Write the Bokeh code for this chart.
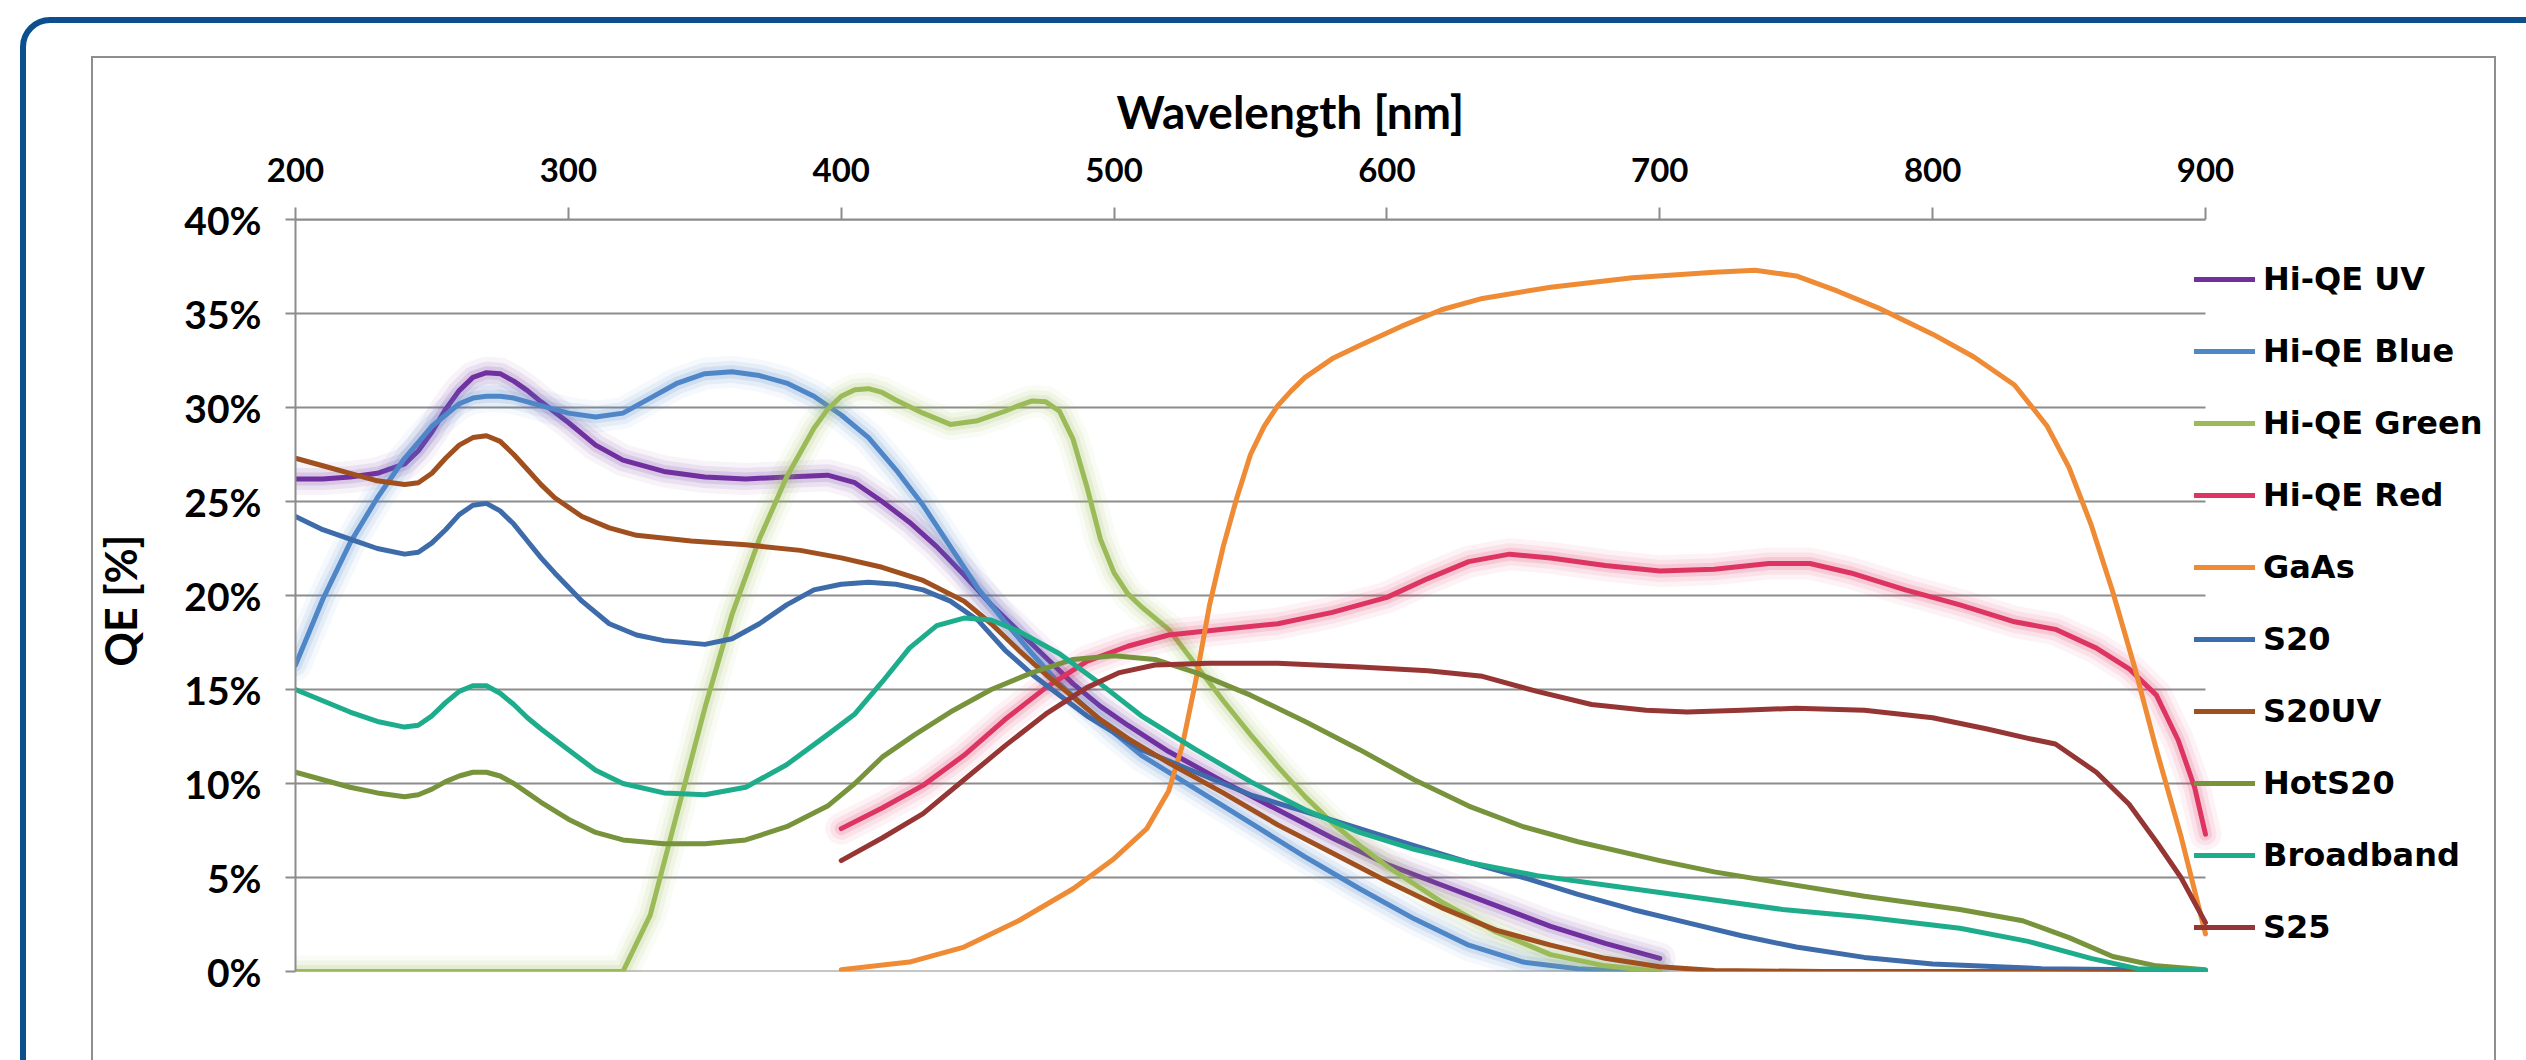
from bokeh.plotting import figure
from bokeh.models import (Range1d, FixedTicker, PrintfTickFormatter, Legend, LegendItem,
                          ColumnDataSource, GlobalInlineStyleSheet)
from bokeh.embed import file_html
from bokeh.resources import INLINE

# ---------------- data ----------------
x_ticks = [200, 300, 400, 500, 600, 700, 800, 900]
y_ticks = [0, 5, 10, 15, 20, 25, 30, 35, 40]

series_names = ["Hi-QE UV", "Hi-QE Blue", "Hi-QE Green", "Hi-QE Red", "GaAs",
                "S20", "S20UV", "HotS20", "Broadband", "S25"]

hiqe_uv_wl = [200, 210, 220, 230, 240, 245, 250, 255, 260, 265, 270, 275, 280, 285, 290, 300, 310,
              320, 335, 350, 365, 380, 395, 405, 415, 425, 435, 445, 455, 465, 475, 485, 495, 505,
              520, 540, 560, 580, 600, 620, 640, 660, 680, 700]
hiqe_uv_qe = [26.2, 26.2, 26.3, 26.5, 27.0, 27.7, 28.7, 29.9, 30.9, 31.6, 31.85, 31.8, 31.4, 30.9,
              30.3, 29.2, 28.0, 27.2, 26.6, 26.3, 26.2, 26.3, 26.4, 26.0, 25.0, 23.9, 22.6, 21.1,
              19.5, 18.1, 16.7, 15.3, 14.1, 13.1, 11.7, 10.1, 8.6, 7.1, 5.7, 4.6, 3.5, 2.4, 1.5, 0.7]

hiqe_blue_wl = [200, 210, 220, 230, 240, 250, 260, 265, 270, 275, 280, 290, 300, 310, 320, 330, 340,
                350, 360, 370, 380, 390, 400, 410, 420, 430, 440, 450, 460, 470, 480, 490, 500, 510,
                530, 550, 570, 590, 610, 630, 650, 670, 690, 700]
hiqe_blue_qe = [16.3, 19.8, 22.8, 25.2, 27.3, 29.0, 30.2, 30.5, 30.6, 30.6, 30.5, 30.1, 29.7, 29.5,
                29.7, 30.5, 31.3, 31.8, 31.9, 31.7, 31.3, 30.6, 29.6, 28.4, 26.7, 24.8, 22.6, 20.4,
                18.6, 16.9, 15.3, 14.0, 12.7, 11.5, 9.7, 7.9, 6.1, 4.4, 2.8, 1.4, 0.5, 0.15, 0.0, 0.0]

hiqe_green_wl = [200, 250, 300, 320, 330, 340, 350, 360, 370, 380, 390, 395, 400, 405, 410, 415, 420,
                 430, 440, 450, 460, 465, 470, 475, 480, 485, 490, 495, 500, 505, 510, 520, 530, 540,
                 550, 560, 570, 580, 590, 600, 620, 640, 660, 680, 700]
hiqe_green_qe = [0.0, 0.0, 0.0, 0.0, 3.0, 8.5, 14.0, 19.0, 23.0, 26.3, 28.9, 29.9, 30.6, 30.95, 31.0,
                 30.8, 30.4, 29.7, 29.1, 29.3, 29.8, 30.1, 30.35, 30.3, 29.8, 28.3, 25.8, 23.0, 21.2,
                 20.1, 19.4, 18.2, 16.3, 14.4, 12.6, 10.9, 9.3, 7.9, 6.7, 5.6, 3.7, 2.1, 0.9, 0.3, 0.0]

hiqe_red_wl = [400, 415, 430, 445, 460, 475, 490, 505, 520, 540, 560, 580, 600, 615, 630, 645, 660,
               680, 700, 720, 740, 755, 770, 790, 810, 830, 845, 860, 872, 882, 890, 896, 900]
hiqe_red_qe = [7.6, 8.7, 9.9, 11.5, 13.4, 15.1, 16.5, 17.3, 17.9, 18.2, 18.5, 19.1, 19.9, 20.9, 21.8,
               22.2, 22.0, 21.6, 21.3, 21.4, 21.7, 21.7, 21.2, 20.3, 19.5, 18.6, 18.2, 17.2, 16.1,
               14.7, 12.3, 9.8, 7.3]

gaas_wl = [400, 425, 445, 465, 485, 500, 512, 520, 525, 530, 535, 540, 545, 550, 555, 560, 565, 570,
           580, 590, 605, 620, 635, 660, 690, 720, 735, 750, 765, 780, 800, 815, 830, 842, 850, 858,
           866, 874, 882, 891, 900]
gaas_qe = [0.1, 0.5, 1.3, 2.7, 4.4, 6.0, 7.6, 9.6, 12.0, 15.5, 19.5, 22.6, 25.2, 27.5, 29.0, 30.1,
           30.9, 31.6, 32.6, 33.3, 34.3, 35.2, 35.8, 36.4, 36.9, 37.2, 37.3, 37.0, 36.2, 35.3, 33.9,
           32.7, 31.2, 29.0, 26.8, 23.8, 20.2, 16.2, 11.8, 7.2, 2.0]

s20_wl = [200, 210, 220, 230, 240, 245, 250, 255, 260, 265, 270, 275, 280, 285, 290, 295, 305, 315,
          325, 335, 350, 360, 370, 380, 390, 400, 410, 420, 430, 440, 450, 460, 470, 480, 490, 500,
          510, 530, 550, 570, 590, 610, 630, 650, 670, 690, 710, 730, 750, 775, 800, 840, 900]
s20_qe = [24.2, 23.5, 23.0, 22.5, 22.2, 22.3, 22.8, 23.5, 24.3, 24.8, 24.9, 24.5, 23.8, 22.9, 22.0,
          21.2, 19.7, 18.5, 17.9, 17.6, 17.4, 17.7, 18.5, 19.5, 20.3, 20.6, 20.7, 20.6, 20.3, 19.7,
          18.7, 17.1, 15.8, 14.7, 13.6, 12.7, 11.8, 10.6, 9.4, 8.5, 7.6, 6.7, 5.8, 5.0, 4.1, 3.3,
          2.6, 1.9, 1.3, 0.75, 0.4, 0.15, 0.05]

s20uv_wl = [200, 210, 220, 230, 240, 245, 250, 255, 260, 265, 270, 275, 280, 285, 290, 295, 305, 315,
            325, 345, 365, 385, 400, 415, 430, 445, 455, 465, 475, 485, 495, 505, 520, 540, 560, 580,
            600, 620, 640, 660, 680, 700, 720, 760, 800, 900]
s20uv_qe = [27.3, 26.9, 26.5, 26.1, 25.9, 26.0, 26.5, 27.3, 28.0, 28.4, 28.5, 28.2, 27.5, 26.7, 25.9,
            25.2, 24.2, 23.6, 23.2, 22.9, 22.7, 22.4, 22.0, 21.5, 20.8, 19.7, 18.5, 17.1, 15.8, 14.6,
            13.4, 12.4, 11.1, 9.5, 7.8, 6.3, 4.8, 3.4, 2.2, 1.4, 0.7, 0.25, 0.05, 0.0, 0.0, 0.0]

hots20_wl = [200, 210, 220, 230, 240, 245, 250, 255, 260, 265, 270, 275, 280, 285, 290, 300, 310, 320,
             335, 350, 365, 380, 395, 405, 415, 427, 440, 455, 470, 485, 500, 515, 530, 550, 570, 590,
             610, 630, 650, 670, 700, 720, 745, 775, 810, 833, 850, 866, 882, 900]
hots20_qe = [10.6, 10.2, 9.8, 9.5, 9.3, 9.4, 9.7, 10.1, 10.4, 10.6, 10.6, 10.4, 10.0, 9.5, 9.0, 8.1,
             7.4, 7.0, 6.8, 6.8, 7.0, 7.7, 8.8, 10.0, 11.4, 12.6, 13.8, 15.0, 15.9, 16.6, 16.8, 16.6,
             15.9, 14.7, 13.3, 11.8, 10.2, 8.8, 7.7, 6.9, 5.9, 5.3, 4.7, 4.0, 3.3, 2.7, 1.8, 0.8, 0.3,
             0.1]

broadband_wl = [200, 210, 220, 230, 240, 245, 250, 255, 260, 265, 270, 275, 280, 285, 290, 300, 310,
                320, 335, 350, 365, 380, 395, 405, 415, 425, 435, 445, 455, 465, 480, 495, 510, 530,
                550, 570, 590, 610, 630, 655, 680, 710, 745, 775, 810, 835, 858, 875, 900]
broadband_qe = [15.0, 14.4, 13.8, 13.3, 13.0, 13.1, 13.6, 14.3, 14.9, 15.2, 15.2, 14.8, 14.2, 13.5,
                12.9, 11.8, 10.7, 10.0, 9.5, 9.4, 9.8, 11.0, 12.6, 13.7, 15.4, 17.2, 18.4, 18.8, 18.7,
                18.1, 16.9, 15.3, 13.6, 11.8, 10.1, 8.6, 7.4, 6.5, 5.8, 5.1, 4.6, 4.0, 3.3, 2.9, 2.3,
                1.6, 0.7, 0.15, 0.05]

s25_wl = [400, 415, 430, 445, 460, 475, 490, 502, 515, 535, 560, 590, 615, 635, 655, 675, 695, 710,
          730, 750, 775, 800, 820, 835, 845, 860, 872, 882, 891, 900]
s25_qe = [5.9, 7.1, 8.4, 10.2, 12.0, 13.7, 15.1, 15.9, 16.3, 16.4, 16.4, 16.2, 16.0, 15.7, 14.9, 14.2,
          13.9, 13.8, 13.9, 14.0, 13.9, 13.5, 12.9, 12.4, 12.1, 10.6, 8.9, 6.9, 5.0, 2.6]

series_wl = [hiqe_uv_wl, hiqe_blue_wl, hiqe_green_wl, hiqe_red_wl, gaas_wl,
             s20_wl, s20uv_wl, hots20_wl, broadband_wl, s25_wl]
series_qe = [hiqe_uv_qe, hiqe_blue_qe, hiqe_green_qe, hiqe_red_qe, gaas_qe,
             s20_qe, s20uv_qe, hots20_qe, broadband_qe, s25_qe]

# ---------------- styles ----------------
colors = ["#7030A0", "#4F86C8", "#9BBB59", "#DE3461", "#EE8B34",
          "#3E6BAA", "#A0501F", "#77933C", "#1EAD8C", "#963634"]
glow = [True, True, True, True, False, False, False, False, False, False]

GRID = "#8C8C8C"
FONT = "Lato"

W, H = 2526, 1060
FL, FT, FB = 295, 219, 971            # frame left / top / bottom in canvas pixels
PX_PER_NM = 1910 / 700                # 200..900 nm spans 1910 px
X_END = 200 + (W - FL) / PX_PER_NM    # frame extends to the right edge (room for the legend)

# page decoration: rounded blue card border and grey chart-area border
deco = GlobalInlineStyleSheet(css="""
body::before { content: ""; position: fixed; left: 20px; top: 17px; right: -40px; bottom: -60px;
  border: 6px solid #0B4F8F; border-radius: 30px; pointer-events: none; z-index: 5; }
body::after { content: ""; position: fixed; left: 91px; top: 56px; width: 2405px; bottom: -30px;
  border: 2.5px solid #8E8E8E; box-sizing: border-box; pointer-events: none; z-index: 5; }
""")

p = figure(width=W, height=H, output_backend="svg", toolbar_location=None,
           x_range=Range1d(200, X_END), y_range=Range1d(0, 40),
           x_axis_location="above",
           min_border_left=FL, min_border_top=FT,
           min_border_right=0, min_border_bottom=H - FB)
p.stylesheets = [deco]
p.outline_line_color = None
p.background_fill_color = "white"
p.border_fill_color = "white"

# title above the top axis
p.title.text = "Wavelength [nm]"
p.title.align = "left"
p.title.offset = 821
p.title.text_font = FONT
p.title.text_font_style = "bold"
p.title.text_font_size = "46px"
p.title.text_color = "black"
p.title.standoff = 32

xa = p.xaxis[0]
xa.ticker = FixedTicker(ticks=x_ticks)
xa.bounds = (200, 900)
xa.major_tick_in = 0
xa.major_tick_out = 12
xa.minor_tick_line_color = None
xa.axis_line_color = GRID
xa.axis_line_width = 2
xa.major_tick_line_color = GRID
xa.major_tick_line_width = 2
xa.major_label_text_font = FONT
xa.major_label_text_font_style = "bold"
xa.major_label_text_font_size = "33px"
xa.major_label_text_color = "black"
xa.major_label_standoff = 26

ya = p.yaxis[0]
ya.ticker = FixedTicker(ticks=y_ticks)
ya.formatter = PrintfTickFormatter(format="%d%%")
ya.major_tick_in = 0
ya.major_tick_out = 10
ya.minor_tick_line_color = None
ya.axis_line_color = GRID
ya.axis_line_width = 2
ya.major_tick_line_color = GRID
ya.major_tick_line_width = 2
ya.major_label_text_font = FONT
ya.major_label_text_font_style = "bold"
ya.major_label_text_font_size = "39px"
ya.major_label_text_color = "black"
ya.major_label_standoff = 24
ya.axis_label = "QE  [%]"
ya.axis_label_text_font = FONT
ya.axis_label_text_font_style = "bold"
ya.axis_label_text_font_size = "43px"
ya.axis_label_text_color = "black"
ya.axis_label_standoff = 35

# horizontal gridlines limited to the 200..900 nm span
p.xgrid.visible = False
p.ygrid.visible = False
p.segment(x0=[x_ticks[0]] * len(y_ticks), x1=[x_ticks[-1]] * len(y_ticks),
          y0=y_ticks, y1=y_ticks, line_color=GRID, line_width=2, level="underlay")

# ---------------- series ----------------
items = []
for name, wl, qe, col, g in zip(series_names, series_wl, series_qe, colors, glow):
    src = ColumnDataSource(dict(x=wl, y=qe))
    if g:
        for lw, a in [(32, 0.06), (22, 0.09), (13, 0.14)]:
            p.line("x", "y", source=src, line_color=col, line_width=lw, line_alpha=a,
                   line_join="round", line_cap="round")
    r = p.line("x", "y", source=src, line_color=col, line_width=5,
               line_join="round", line_cap="round")
    items.append(LegendItem(label=name, renderers=[r]))

n = len(items)
gh, sp = 42, 30
leg_h = n * gh + (n - 1) * sp
leg_top = 258
legend = Legend(items=items,
                location=(2194 - FL, (FB - leg_top) - leg_h),
                glyph_width=61, glyph_height=gh, label_height=gh, spacing=sp,
                padding=0, margin=0, label_standoff=8,
                border_line_color=None, background_fill_alpha=0,
                label_text_font="DejaVu Sans", label_text_font_style="bold",
                label_text_font_size="32px", label_text_color="black")
p.add_layout(legend)

open("out.html", "w").write(file_html(p, INLINE))
